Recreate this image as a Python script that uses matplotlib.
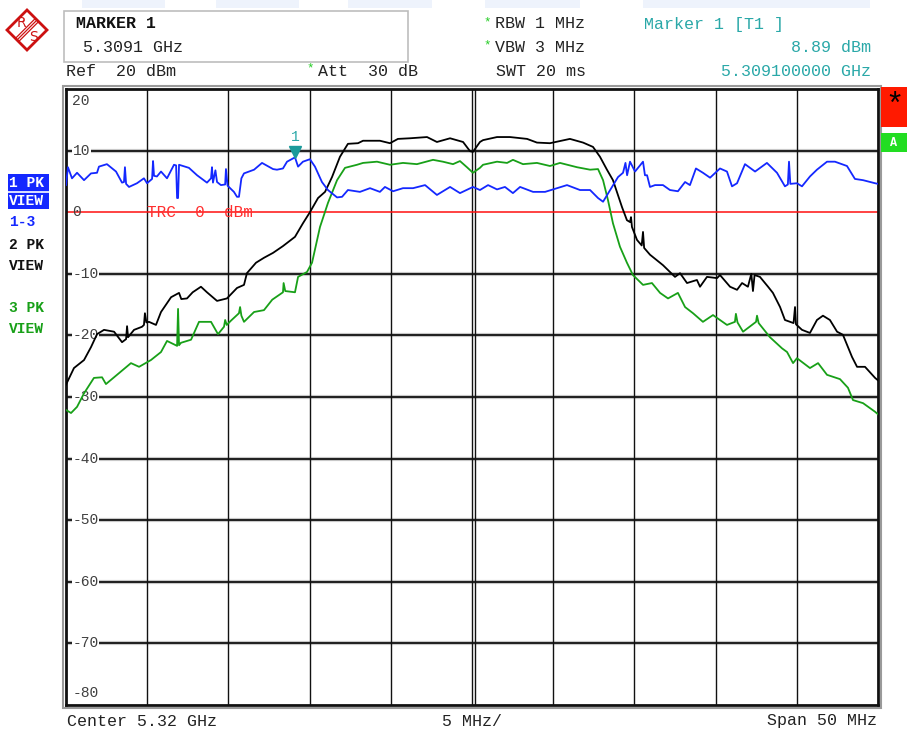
import matplotlib
matplotlib.use("Agg")
import matplotlib.pyplot as plt
from matplotlib.patches import Rectangle, Polygon
from matplotlib import transforms

# ---------------- data (frequency offset from centre in MHz, level in dBm) -------------
center_ghz = 5.32
span_mhz = 50
ref_level = 20
y_ticks = [20, 10, 0, -10, -20, -30, -40, -50, -60, -70, -80]
x_grid = [-20, -15, -10, -5, 0, 5, 10, 15, 20]

f_trace1 = [-25.0, -24.88, -24.63, -24.32, -23.89, -23.46, -23.09, -22.97, -22.48, -21.92,
            -21.55, -21.43, -21.37, -21.30, -21.12, -20.63, -20.20, -20.01, -19.70, -19.64,
            -19.58, -19.40, -19.15, -18.78, -18.35, -18.22, -18.16, -18.10, -18.04, -17.43,
            -16.93, -16.32, -16.07, -16.01, -15.95, -15.80, -15.70, -15.46, -15.20, -15.15,
            -15.05, -14.66, -14.47, -14.35, -14.20, -14.04, -13.42, -12.93, -12.25, -12.01,
            -11.64, -11.39, -10.90, -10.71, -10.41, -9.98, -9.67, -9.24, -8.87, -8.31,
            -8.00, -7.64, -6.90, -6.28, -5.67, -5.36, -4.86, -4.25, -3.63, -2.89,
            -2.16, -1.35, -0.74, 0.06, 0.49, 0.68, 0.99, 1.54, 2.03, 2.52,
            2.96, 3.76, 4.50, 5.23, 5.85, 6.65, 7.27, 7.76, 8.07, 8.62,
            8.99, 9.30, 9.45, 9.55, 9.73, 10.04, 10.53, 10.65, 10.78, 10.96,
            11.27, 11.76, 12.19, 12.68, 13.12, 13.42, 13.79, 14.22, 14.66, 15.27,
            15.70, 16.01, 16.32, 16.81, 17.43, 18.16, 18.78, 19.27, 19.45, 19.52,
            19.60, 20.01, 20.32, 20.81, 21.24, 21.86, 22.35, 23.09, 23.58, 24.08,
            24.82, 25.0]
l_trace1 = [4.4, 7.3, 5.5, 6.4, 5.2, 6.3, 6.4, 7.4, 7.8, 6.6,
            4.8, 4.9, 7.3, 4.6, 4.1, 4.7, 5.5, 4.7, 5.4, 8.3,
            5.9, 5.8, 6.6, 5.5, 7.7, 7.6, 2.3, 2.3, 7.7, 7.2,
            6.0, 4.8, 5.5, 7.3, 4.8, 6.8, 4.9, 4.4, 4.5, 7.0,
            4.3, 3.3, 2.5, 2.5, 5.5, 6.3, 6.9, 8.0, 7.0, 6.9,
            7.1, 8.2, 8.9, 7.4, 8.2, 8.6, 7.4, 4.9, 3.6, 2.4,
            2.5, 3.6, 3.3, 3.9, 3.3, 4.1, 3.4, 3.9, 3.9, 4.4,
            2.8, 4.1, 3.1, 4.1, 3.6, 3.9, 4.4, 3.7, 4.1, 3.1,
            4.1, 3.3, 3.3, 3.9, 4.4, 3.6, 3.6, 2.3, 1.7, 4.1,
            5.7, 6.4, 8.0, 6.0, 8.2, 6.6, 8.2, 6.0, 6.0, 4.1,
            4.4, 4.4, 3.6, 3.4, 4.9, 4.4, 7.1, 6.4, 5.6, 7.1,
            6.6, 4.2, 4.7, 7.8, 6.6, 8.0, 6.4, 4.2, 4.5, 8.2,
            4.6, 4.7, 4.2, 5.8, 6.9, 8.2, 8.2, 7.5, 5.4, 5.2,
            4.7, 4.6]

f_trace2 = [-25.0, -24.51, -23.89, -23.46, -23.09, -22.66, -22.04, -21.55, -21.30, -21.24,
            -21.18, -20.81, -20.32, -20.20, -20.14, -20.05, -19.89, -19.46, -19.15, -18.53,
            -18.04, -17.90, -17.55, -17.20, -16.69, -16.32, -15.70, -15.09, -14.47, -14.04,
            -13.86, -13.30, -12.81, -12.25, -11.64, -10.90, -10.41, -9.98, -9.48, -9.05,
            -8.62, -8.13, -7.64, -7.02, -6.71, -5.67, -5.05, -4.56, -3.82, -2.77,
            -2.16, -1.35, -0.55, -0.12, 0.06, 0.49, 0.68, 1.54, 2.34, 3.39,
            4.00, 4.80, 6.03, 6.84, 7.45, 7.88, 8.31, 8.68, 9.24, 9.54,
            9.73, 9.79, 9.85, 10.16, 10.45, 10.53, 10.60, 10.96, 11.76, 12.50,
            12.81, 13.24, 13.85, 14.04, 14.47, 15.09, 15.27, 15.89, 16.32, 16.63,
            16.99, 17.20, 17.30, 17.40, 17.73, 18.23, 18.53, 18.97, 19.27, 19.80,
            19.89, 19.95, 20.32, 20.81, 21.24, 21.61, 22.04, 22.48, 22.84, 23.40,
            23.71, 24.20, 24.82, 25.0]
l_trace2 = [-28.0, -25.3, -24.0, -21.9, -19.8, -19.1, -19.4, -21.1, -20.6, -18.5,
            -20.3, -19.1, -18.6, -18.3, -16.4, -17.9, -17.8, -18.3, -16.2, -13.8,
            -13.1, -14.1, -14.0, -13.0, -12.1, -13.0, -14.4, -14.0, -12.3, -11.8,
            -9.9, -8.2, -7.4, -6.6, -5.5, -4.0, -1.8, 0.0, 2.3, 3.3,
            5.7, 9.0, 11.1, 11.2, 11.6, 11.6, 11.2, 11.9, 12.0, 12.2,
            11.4, 12.0, 11.4, 9.9, 9.8, 11.4, 11.7, 12.2, 12.2, 11.9,
            11.3, 11.2, 11.9, 11.3, 10.6, 9.0, 6.9, 5.2, 0.8, -1.3,
            -1.6, -0.8, -2.4, -4.5, -5.4, -3.2, -5.8, -6.9, -8.6, -10.5,
            -9.9, -11.5, -11.0, -12.1, -10.5, -10.7, -10.2, -12.1, -12.6, -11.5,
            -12.1, -10.0, -12.8, -10.2, -10.5, -12.1, -13.1, -15.4, -17.5, -18.0,
            -15.4, -18.2, -19.1, -19.6, -17.5, -16.8, -17.5, -19.4, -19.9, -23.5,
            -25.1, -25.1, -26.9, -27.3]

f_trace3 = [-25.0, -24.69, -24.32, -23.89, -23.28, -22.78, -22.54, -21.86, -21.00, -20.50,
            -19.77, -19.15, -18.78, -18.16, -18.10, -18.04, -17.92, -17.30, -16.81, -16.07,
            -15.64, -15.27, -15.20, -15.10, -14.84, -14.35, -14.28, -14.20, -14.04, -13.42,
            -12.81, -12.30, -11.64, -11.60, -11.50, -10.90, -10.71, -10.16, -9.85, -9.36,
            -8.87, -8.31, -7.82, -7.08, -6.71, -5.85, -5.05, -4.25, -3.39, -2.40,
            -1.79, -1.17, -0.74, -0.31, 0.06, 0.49, 0.68, 1.54, 2.16, 2.52,
            3.14, 4.00, 4.80, 5.42, 6.47, 7.27, 7.76, 8.07, 8.37, 8.68,
            9.11, 9.54, 9.91, 10.53, 11.08, 11.58, 12.07, 12.68, 13.12, 13.61,
            14.22, 14.84, 15.70, 16.19, 16.25, 16.35, 16.69, 17.49, 17.55, 17.65,
            18.35, 19.09, 19.40, 19.77, 20.01, 20.81, 21.31, 21.86, 22.66, 23.15,
            23.46, 24.08, 24.82, 25.0]
l_trace3 = [-32.1, -32.6, -31.6, -29.4, -26.9, -26.8, -27.9, -26.4, -24.5, -25.1,
            -24.0, -22.7, -20.9, -21.7, -15.7, -21.6, -21.2, -20.7, -17.8, -17.8,
            -19.8, -18.6, -17.5, -18.3, -17.6, -16.4, -15.4, -16.8, -17.8, -16.2,
            -15.9, -14.2, -13.0, -11.5, -12.8, -13.0, -10.5, -9.7, -8.2, -2.4,
            1.5, 5.2, 7.2, 7.7, 8.0, 8.2, 7.7, 8.0, 7.8, 8.5,
            8.2, 7.8, 8.3, 7.3, 6.4, 7.2, 7.7, 8.2, 8.0, 8.5,
            7.8, 8.0, 7.5, 8.0, 7.3, 6.9, 7.0, 5.2, 2.0, -1.8,
            -5.6, -8.2, -10.2, -11.8, -11.5, -13.1, -14.0, -13.1, -15.4, -16.4,
            -17.8, -16.7, -18.3, -17.8, -16.5, -17.9, -19.4, -17.8, -16.8, -18.0,
            -20.3, -22.1, -22.7, -24.5, -23.7, -25.3, -24.5, -26.4, -27.1, -28.5,
            -30.5, -31.0, -32.4, -32.8]

marker_f = -10.9
marker_l = 8.89
trc_level = 0

# ---------------- figure ----------------
W, H = 907, 729
fig = plt.figure(figsize=(W / 100, H / 100), dpi=100)
fig.patch.set_facecolor("white")
MONO = ["Liberation Mono", "DejaVu Sans Mono"]
HFS = 12  # header font size
TXT = "#222222"

def fx(x):
    return x / W

def fy(y):
    return 1 - y / H

L, R, T, B = 66, 878, 89, 705
ax = fig.add_axes([fx(L), fy(B), (R - L) / W, (B - T) / H])
ax.set_xlim(-span_mhz / 2, span_mhz / 2)
ax.set_ylim(y_ticks[-1], y_ticks[0])
ax.set_xticks([])
ax.set_yticks([])
for s in ax.spines.values():
    s.set_linewidth(2.0)
    s.set_color("#111111")

# outer grey frame
fig.patches.append(Rectangle((fx(L - 3), fy(B + 3)), (R - L + 6) / W, (B - T + 6) / H,
                             transform=fig.transFigure, fill=False, ec="#9a9a9a", lw=1.5))

# grid
for g in x_grid:
    ax.axvline(g, color="#111111", lw=1.0, zorder=1)
ax.axvline(0.2, color="#111111", lw=1.0, zorder=1)
for g in y_ticks[1:-1]:
    if g == trc_level:
        continue
    ax.axhline(g, color="#c8c8c8", lw=3.0, zorder=0.9)
    ax.axhline(g, color="#111111", lw=1.3, zorder=1)

# reference line
ax.axhline(trc_level, color="#ff1010", lw=1.1, zorder=2)
ax.text(-20.0, trc_level, "TRC  0  dBm", color="#ff3030", fontsize=11.5, family=MONO,
        va="center", ha="left", zorder=2)

# traces
ax.plot(f_trace3, l_trace3, color="#18a018", lw=1.3, zorder=3)
ax.plot(f_trace2, l_trace2, color="#000000", lw=1.3, zorder=4)
ax.plot(f_trace1, l_trace1, color="#1428ff", lw=1.3, zorder=5)

# marker
mk_tr = transforms.offset_copy(ax.transData, fig=fig, x=0, y=4, units="points")
ax.plot([marker_f], [marker_l], marker="v", color="#1a9a9a", ms=8, transform=mk_tr, zorder=6)
ax.annotate("1", (marker_f, marker_l), xytext=(0, 10), textcoords="offset points",
            ha="center", va="bottom", color="#2aa8a8", fontsize=10.5, family=MONO, zorder=6)

# y labels inside the plot
for v in y_ticks:
    va = "center"
    yv = v
    if v == y_ticks[0]:
        va, yv = "top", v - 0.8
    elif v == y_ticks[-1]:
        va, yv = "bottom", v + 0.8
    box = None
    if v not in (y_ticks[0], y_ticks[-1], trc_level):
        box = dict(boxstyle="square,pad=0.05", fc="white", ec="none")
    ax.text(-24.6, yv, f"{v}", color="#404040", fontsize=10.5, family=MONO,
            ha="left", va=va, zorder=2.5, bbox=box)

# ---------------- header ----------------
for x0, x1 in [(82, 165), (216, 299), (348, 432), (485, 580), (643, 870)]:
    fig.patches.append(Rectangle((fx(x0), fy(8)), (x1 - x0) / W, 8 / H,
                                 transform=fig.transFigure, fc="#eef3fc", ec="none"))

# R&S logo
cx, cy, r = 27, 30, 20
RED = "#cc1111"
fig.patches.append(Polygon([(fx(cx - r), fy(cy)), (fx(cx), fy(cy - r)), (fx(cx + r), fy(cy)),
                            (fx(cx), fy(cy + r))], closed=True, transform=fig.transFigure,
                           fill=False, ec=RED, lw=2.0))
for d in (-1.6, 0, 1.6):
    fig.lines.append(plt.Line2D([fx(cx - 10 + d), fx(cx + 10 + d)], [fy(cy + 10 + d), fy(cy - 10 + d)],
                                transform=fig.transFigure, color=RED, lw=0.9))
fig.text(fx(cx - 6), fy(cy - 7), "R", color=RED, fontsize=10, ha="center", va="center")
fig.text(fx(cx + 6), fy(cy + 7), "S", color=RED, fontsize=10, ha="center", va="center")

# marker box
fig.patches.append(Rectangle((fx(64), fy(62)), (408 - 64) / W, (62 - 11) / H,
                             transform=fig.transFigure, fc="white", ec="#bdbdbd", lw=1.2))
fig.text(fx(76), fy(23), "MARKER 1", fontsize=HFS, weight="bold", family=MONO,
         color="#111111", va="center", ha="left")
fig.text(fx(83), fy(47), "5.3091 GHz", fontsize=HFS, family=MONO, color=TXT,
         va="center", ha="left")

fig.text(fx(66), fy(71), "Ref  20 dBm", fontsize=HFS, family=MONO, color=TXT,
         va="center", ha="left")
fig.text(fx(310), fy(68), "*", fontsize=9, family=MONO, color="#22cc22", va="center", ha="center")
fig.text(fx(318), fy(71), "Att  30 dB", fontsize=HFS, family=MONO, color=TXT,
         va="center", ha="left")
fig.text(fx(487), fy(22), "*", fontsize=9, family=MONO, color="#22cc22", va="center", ha="center")
fig.text(fx(495), fy(24), "RBW 1 MHz", fontsize=HFS, family=MONO, color=TXT,
         va="center", ha="left")
fig.text(fx(487), fy(45), "*", fontsize=9, family=MONO, color="#22cc22", va="center", ha="center")
fig.text(fx(495), fy(47), "VBW 3 MHz", fontsize=HFS, family=MONO, color=TXT,
         va="center", ha="left")
fig.text(fx(496), fy(71), "SWT 20 ms", fontsize=HFS, family=MONO, color=TXT,
         va="center", ha="left")

TEAL = "#2aa8a8"
fig.text(fx(644), fy(24), "Marker 1 [T1 ]", fontsize=HFS, family=MONO, color=TEAL,
         va="center", ha="left")
fig.text(fx(871), fy(47), "8.89 dBm", fontsize=HFS, family=MONO, color=TEAL,
         va="center", ha="right")
fig.text(fx(871), fy(71), "5.309100000 GHz", fontsize=HFS, family=MONO, color=TEAL,
         va="center", ha="right")

# left trace legends
BLUE = "#1428ff"
LFS = 10.5
fig.patches.append(Rectangle((fx(8), fy(209)), 41 / W, 35 / H, transform=fig.transFigure,
                             fc=BLUE, ec="none"))
fig.lines.append(plt.Line2D([fx(8), fx(49)], [fy(191.5), fy(191.5)], transform=fig.transFigure,
                            color="white", lw=1.2))
fig.text(fx(9), fy(183), "1 PK", fontsize=LFS, weight="bold", family=MONO, color="white", va="center")
fig.text(fx(9), fy(201), "VIEW", fontsize=LFS, weight="bold", family=MONO, color="white", va="center")
fig.text(fx(9), fy(222), "1-3", fontsize=LFS, weight="bold", family=MONO, color=BLUE, va="center")
fig.text(fx(9), fy(245), "2 PK", fontsize=LFS, weight="bold", family=MONO, color="#111111", va="center")
fig.text(fx(9), fy(266), "VIEW", fontsize=LFS, weight="bold", family=MONO, color="#111111", va="center")
fig.text(fx(9), fy(308), "3 PK", fontsize=LFS, weight="bold", family=MONO, color="#18a018", va="center")
fig.text(fx(9), fy(329), "VIEW", fontsize=LFS, weight="bold", family=MONO, color="#18a018", va="center")

# right status boxes
fig.patches.append(Rectangle((fx(881), fy(127)), 26 / W, 40 / H, transform=fig.transFigure,
                             fc="#ff1a00", ec="none"))
fig.text(fx(894), fy(106), "*", fontsize=22, family=MONO, color="black", ha="center", va="center")
fig.patches.append(Rectangle((fx(881), fy(152)), 26 / W, 19 / H, transform=fig.transFigure,
                             fc="#22dd22", ec="none"))
fig.text(fx(894), fy(143), "A", fontsize=8.5, weight="bold", family=MONO, color="white",
         ha="center", va="center")

# footer
fig.text(fx(67), fy(721), f"Center {center_ghz} GHz", fontsize=HFS, family=MONO,
         color=TXT, va="center", ha="left")
fig.text(fx(472), fy(721), f"{span_mhz // 10} MHz/", fontsize=HFS, family=MONO,
         color=TXT, va="center", ha="center")
fig.text(fx(877), fy(721), f"Span {span_mhz} MHz", fontsize=HFS, family=MONO,
         color=TXT, va="center", ha="right")

fig.savefig("out.png", dpi=100)
